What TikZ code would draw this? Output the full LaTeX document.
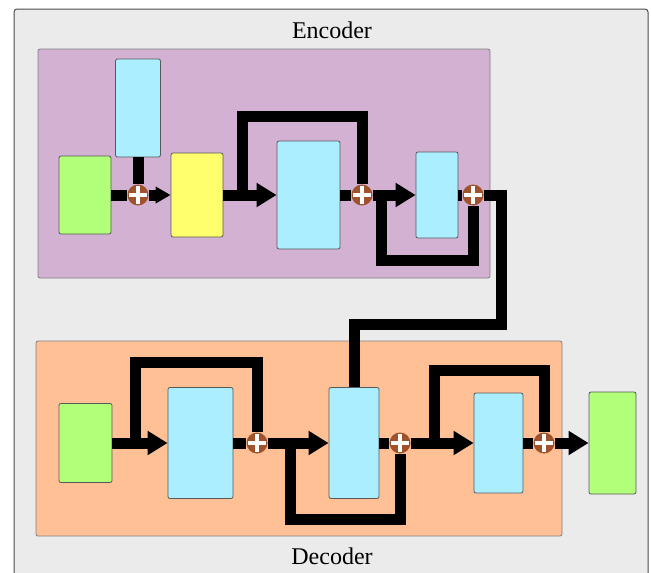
\documentclass[tikz,border=0pt]{standalone}
\usepackage{fontspec}
\setmainfont{Liberation Serif}
\usepackage{tikz}
\usetikzlibrary{arrows.meta}
\usepackage{xcolor}
\definecolor{bggray}{HTML}{EBEBEB}
\definecolor{encpurple}{HTML}{D2B1D2}
\definecolor{decpeach}{HTML}{FFC096}
\definecolor{boxgreen}{HTML}{B2FF7A}
\definecolor{boxblue}{HTML}{AAEEFF}
\definecolor{boxyellow}{HTML}{FFFF6E}
\definecolor{addbrown}{HTML}{A0522D}

\begin{document}
\begin{tikzpicture}[x=1pt,y=-1pt,
  block/.style={draw=black!65, line width=0.8pt, rounded corners=2pt, inner sep=0pt},
  add/.style={circle, fill=addbrown, minimum size=21pt, inner sep=0pt,
    path picture={\draw[white, line width=3.4pt]
      ([xshift=-9pt]path picture bounding box.center) -- ([xshift=9pt]path picture bounding box.center)
      ([yshift=-9pt]path picture bounding box.center) -- ([yshift=9pt]path picture bounding box.center);}},
  wire/.style={line width=11pt},
  arr/.style={wire, -{Triangle[length=20pt,width=23pt]}},
  smallarr/.style={wire, -{Triangle[length=15pt,width=16pt]}},
  title/.style={font=\fontsize{24}{28}\selectfont}]
\useasboundingbox (0,0) rectangle (651,573);
\clip (0,0) rectangle (651,573);
\draw [draw=black!70, fill=bggray, line width=1pt, rounded corners=3pt] (14,9) rectangle (648,600);
\draw [draw=black!50, fill=encpurple, line width=0.8pt, rounded corners=2pt] (38,49) rectangle (490,278);
\draw [draw=black!50, fill=decpeach, line width=0.8pt, rounded corners=2pt] (36,341) rectangle (562,536);
\node [title] (enc) at (332,30) {Encoder};
\node [title] (dec) at (332,556) {Decoder};

% encoder
\node [block, fill=boxgreen, minimum width=52pt, minimum height=78pt] (in) at (85,195) {};
\node [block, fill=boxblue, minimum width=45pt, minimum height=98pt] (pos) at (138,108) {};
\node [add] (p1) at (138,195) {};
\node [block, fill=boxyellow, minimum width=52pt, minimum height=84pt] (emb) at (197,195) {};
\node [block, fill=boxblue, minimum width=63pt, minimum height=108pt] (att) at (308.5,195) {};
\node [add] (p2) at (362,195) {};
\node [block, fill=boxblue, minimum width=42pt, minimum height=86pt] (ff) at (437,195) {};
\node [add] (p3) at (473,195) {};
\coordinate (s1) at (242,195);
\coordinate (s2) at (381,195);
\draw [wire] (in) -- (p1);
\draw [wire] (pos) -- (p1);
\draw [smallarr] (p1) -- (emb);
\draw [arr] (emb) -- (att);
\draw [wire] (att) -- (p2);
\draw [arr] (p2) -- (ff);
\draw [wire] (ff) -- (p3);
\draw [wire] (s1) -- ++(0,-79) -| (p2);
\draw [wire] (s2) -- ++(0,65) -| (p3);

% decoder
\node [block, fill=boxgreen, minimum width=53pt, minimum height=79pt] (out) at (85.5,443) {};
\node [block, fill=boxblue, minimum width=65pt, minimum height=111pt] (datt) at (200.5,443) {};
\node [add] (q1) at (257,443) {};
\node [block, fill=boxblue, minimum width=50pt, minimum height=111pt] (cross) at (354,443) {};
\node [add] (q2) at (400,443) {};
\node [block, fill=boxblue, minimum width=49pt, minimum height=100pt] (dff) at (498.5,443) {};
\node [add] (q3) at (544,443) {};
\node [block, fill=boxgreen, minimum width=47pt, minimum height=102pt] (prob) at (612.5,443) {};
\coordinate (t1) at (135,443);
\coordinate (t2) at (290,443);
\coordinate (t3) at (434,443);
\coordinate (bend) at (501,324);
\draw [arr] (out) -- (datt);
\draw [wire] (datt) -- (q1);
\draw [arr] (q1) -- (cross);
\draw [wire] (cross) -- (q2);
\draw [arr] (q2) -- (dff);
\draw [wire] (dff) -- (q3);
\draw [arr] (q3) -- (prob);
\draw [wire] (t1) -- ++(0,-81) -| (q1);
\draw [wire] (t2) -- ++(0,76) -| (q2);
\draw [wire] (t3) -- ++(0,-73) -| (q3);
\draw [wire] (p3) -| (bend) -| (cross);

\end{tikzpicture}
\end{document}
